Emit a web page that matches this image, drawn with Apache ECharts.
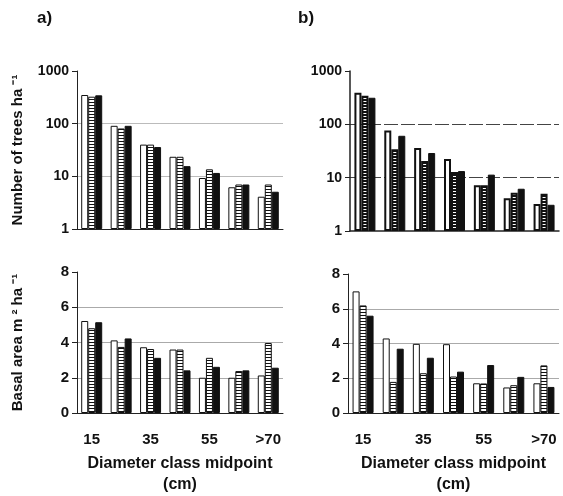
<!DOCTYPE html>
<html>
<head>
<meta charset="utf-8">
<script src="https://cdn.jsdelivr.net/npm/echarts@6/dist/echarts.min.js"></script>
<style>
  html, body { margin: 0; padding: 0; background: #fff; }
  #main { width: 563px; height: 496px; }
</style>
</head>
<body>
<div id="main"></div>
<script>
// diameter classes
var classes = ['15', '25', '35', '45', '55', '65', '>70'];

// a) number of trees ha-1
var aTreesWhite = [350, 91, 40, 23.5, 9.3, 6.2, 4.1];
var aTreesHatch = [325, 81, 40, 23.5, 13.6, 7, 7];
var aTreesBlack = [345, 91, 36, 15.6, 11.6, 7, 5.1];
// b) number of trees ha-1
var bTreesWhite = [390, 77, 36, 22.5, 7.2, 4.1, 3.2];
var bTreesHatch = [345, 34, 20.5, 12.8, 7.2, 5.2, 5.0];
var bTreesBlack = [315, 61, 29, 13.3, 11.4, 6.2, 3.1];
// a) basal area m2 ha-1
var aBasalWhite = [5.22, 4.12, 3.73, 3.6, 2.0, 2.0, 2.13];
var aBasalHatch = [4.81, 3.75, 3.63, 3.6, 3.13, 2.38, 3.97];
var aBasalBlack = [5.15, 4.23, 3.13, 2.42, 2.62, 2.42, 2.57];
// b) basal area m2 ha-1
var bBasalWhite = [7.0, 4.29, 3.98, 3.96, 1.71, 1.47, 1.71];
var bBasalHatch = [6.19, 1.79, 2.29, 2.1, 1.7, 1.6, 2.74];
var bBasalBlack = [5.6, 3.7, 3.18, 2.38, 2.76, 2.08, 1.5];

var FONT = "'Liberation Sans', Arial, sans-serif";

// horizontal stripe pattern for the middle bars
function stripes(darkRows) {
  var c = document.createElement('canvas');
  c.width = 4; c.height = 3;
  var ctx = c.getContext('2d');
  ctx.fillStyle = '#fff';
  ctx.fillRect(0, 0, 4, 3);
  ctx.fillStyle = '#111';
  ctx.fillRect(0, 0, 4, darkRows);
  return c;
}
var hatchLight = { image: stripes(1), repeat: 'repeat' };
var hatchDark = { image: stripes(2), repeat: 'repeat' };

var chart = echarts.init(document.getElementById('main'), null, { renderer: 'canvas' });

var grids = [
  { left: 77, top: 71, width: 206, height: 158 },   // a top
  { left: 350, top: 71, width: 209, height: 160 },  // b top
  { left: 77, top: 272, width: 206, height: 142 },  // a bottom
  { left: 348, top: 274, width: 211, height: 140 }  // b bottom
];

function xAxis(i, showLabels, bold) {
  return {
    type: 'category',
    gridIndex: i,
    data: classes,
    axisLine: { lineStyle: { color: '#222', width: bold ? 1.5 : 1 } },
    axisTick: { interval: 0, length: 4, lineStyle: { color: '#222' } },
    axisLabel: {
      show: showLabels, interval: 1, margin: 19,
      fontFamily: FONT, fontWeight: 'bold', fontSize: 15, color: '#111'
    },
    name: showLabels ? 'Diameter class midpoint\n(cm)' : '',
    nameLocation: 'middle',
    nameGap: 40,
    nameTextStyle: { fontFamily: FONT, fontWeight: 'bold', fontSize: 16, color: '#111', lineHeight: 21 }
  };
}

function yLog(i, dashed, title) {
  return {
    type: 'log', logBase: 10, min: 1, max: 1000, gridIndex: i,
    axisLine: { show: true, lineStyle: { color: '#222', width: dashed ? 1.5 : 1 } },
    axisTick: { show: true, length: 5, lineStyle: { color: '#222' } },
    axisLabel: {
      margin: 8, fontFamily: FONT, fontWeight: 'bold', fontSize: 14, color: '#111',
      formatter: function (v) { return String(Math.round(v)); }
    },
    minorTick: { show: false },
    splitLine: {
      show: true, showMaxLine: false, showMinLine: false,
      lineStyle: dashed ? { color: '#444', type: [14, 3] } : { color: '#bbb' }
    },
    name: title, nameLocation: 'middle', nameRotate: 90, nameGap: 52,
    nameTextStyle: { fontFamily: FONT, fontWeight: 'bold', fontSize: 15, color: '#111' }
  };
}

function yLin(i, title) {
  return {
    type: 'value', min: 0, max: 8, interval: 2, gridIndex: i,
    axisLine: { show: true, lineStyle: { color: '#222' } },
    axisTick: { show: true, length: 5, lineStyle: { color: '#222' } },
    axisLabel: { margin: 8, fontFamily: FONT, fontWeight: 'bold', fontSize: 15, color: '#111' },
    splitLine: { show: true, showMaxLine: false, showMinLine: false, lineStyle: { color: '#aaa' } },
    name: title, nameLocation: 'middle', nameRotate: 90, nameGap: 52,
    nameTextStyle: { fontFamily: FONT, fontWeight: 'bold', fontSize: 15, color: '#111' }
  };
}

function bars(i, white, hatch, black, heavy) {
  var bw = heavy ? 2 : 1;
  var common = { type: 'bar', xAxisIndex: i, yAxisIndex: i, barWidth: 7, barGap: '0%' };
  return [
    Object.assign({ name: 'white', data: white, itemStyle: { color: '#fff', borderColor: '#111', borderWidth: bw } }, common),
    Object.assign({ name: 'hatched', data: hatch, itemStyle: { color: heavy ? hatchDark : hatchLight, borderColor: '#111', borderWidth: bw } }, common),
    Object.assign({ name: 'black', data: black, itemStyle: { color: '#111', borderColor: '#111', borderWidth: 1 } }, common)
  ];
}

var option = {
  backgroundColor: '#fff',
  animation: false,
  grid: grids,
  xAxis: [xAxis(0, false), xAxis(1, false, true), xAxis(2, true), xAxis(3, true)],
  yAxis: [
    yLog(0, false, 'Number of trees ha \u207B\u00B9'),
    yLog(1, true, ''),
    yLin(2, 'Basal area m \u00B2 ha \u207B\u00B9'),
    yLin(3, '')
  ],
  series: [].concat(
    bars(0, aTreesWhite, aTreesHatch, aTreesBlack, false),
    bars(1, bTreesWhite, bTreesHatch, bTreesBlack, true),
    bars(2, aBasalWhite, aBasalHatch, aBasalBlack, false),
    bars(3, bBasalWhite, bBasalHatch, bBasalBlack, false)
  ),
  graphic: [
    { type: 'text', left: 37, top: 10, style: { text: 'a)', fontFamily: FONT, fontWeight: 'bold', fontSize: 17, fill: '#111' } },
    { type: 'text', left: 298, top: 10, style: { text: 'b)', fontFamily: FONT, fontWeight: 'bold', fontSize: 17, fill: '#111' } }
  ]
};

chart.setOption(option);
</script>
</body>
</html>
